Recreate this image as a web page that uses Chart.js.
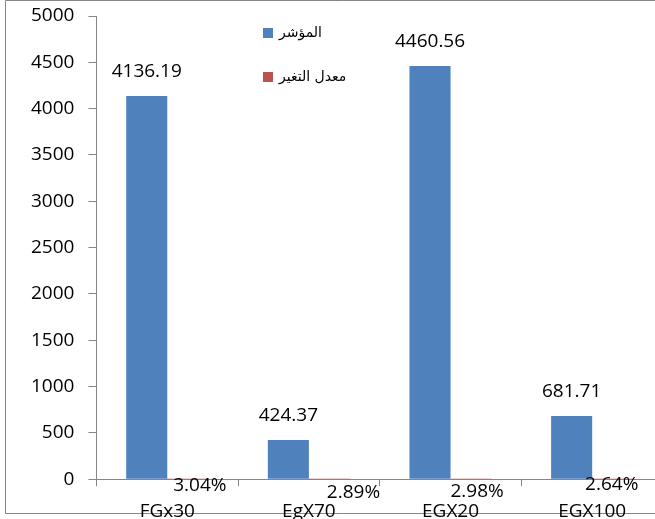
<!DOCTYPE html>
<html>
<head>
<meta charset="utf-8">
<script src="https://cdn.jsdelivr.net/npm/chart.js@4.4.0/dist/chart.umd.min.js"></script>
<style>
html,body{margin:0;padding:0;background:#fff;overflow:hidden;}
#wrap{position:relative;width:680px;height:537px;}
</style>
</head>
<body>
<div id="wrap"><canvas id="c" width="680" height="537"></canvas></div>
<script>
// ---- data ----
const categories = ['FGx30', 'EgX70', 'EGX20', 'EGX100'];
const indexValues = [4136.19, 424.37, 4460.56, 681.71];
const changeRates = [0.0304, 0.0289, 0.0298, 0.0264];
const seriesNames = ['المؤشر', 'معدل التغير'];
const yTicks = [0, 500, 1000, 1500, 2000, 2500, 3000, 3500, 4000, 4500, 5000];

// ---- styling ----
const BLUE = '#4F81BD';
const RED = '#C0504D';
const AXIS = '#868686';
const FONT = '"Open Sans", "DejaVu Sans", sans-serif';
// small per-label nudges for the percentage labels (x, y in px)
const pctNudge = [[12, 6], [24, 13], [6, 12], [-1, 5]];

const framePlugin = {
  id: 'frame',
  beforeDraw(chart) {
    const ctx = chart.ctx;
    ctx.save();
    ctx.fillStyle = '#fff';
    ctx.fillRect(0, 0, chart.width, chart.height);
    ctx.strokeStyle = AXIS;
    ctx.lineWidth = 1;
    ctx.beginPath();
    ctx.moveTo(5.5, 0.5); ctx.lineTo(chart.width, 0.5);
    ctx.moveTo(5.5, 0.5); ctx.lineTo(5.5, 513.5);
    ctx.moveTo(5.5, 513.5); ctx.lineTo(chart.width, 513.5);
    ctx.stroke();
    ctx.restore();
  }
};

const labelsPlugin = {
  id: 'valueLabels',
  afterDatasetsDraw(chart) {
    const ctx = chart.ctx;
    ctx.save();
    ctx.fillStyle = '#000';
    ctx.font = '19px ' + FONT;
    ctx.textAlign = 'center';
    ctx.textBaseline = 'middle';
    chart.getDatasetMeta(0).data.forEach((bar, i) => {
      ctx.fillText(indexValues[i].toFixed(2), bar.x, bar.y - 24);
    });
    chart.getDatasetMeta(1).data.forEach((bar, i) => {
      const t = (changeRates[i] * 100).toFixed(2) + '%';
      ctx.fillText(t, bar.x + pctNudge[i][0], bar.y + pctNudge[i][1]);
    });
    ctx.restore();
  }
};

const legendPlugin = {
  id: 'customLegend',
  afterDraw(chart) {
    const ctx = chart.ctx;
    const colors = [BLUE, RED];
    const rowsY = [33, 77];
    ctx.save();
    ctx.font = '14px "DejaVu Sans", sans-serif';
    ctx.textBaseline = 'middle';
    ctx.textAlign = 'left';
    seriesNames.forEach((name, i) => {
      ctx.fillStyle = colors[i];
      ctx.fillRect(263, rowsY[i] - 5, 10, 10);
      ctx.fillStyle = '#000';
      ctx.fillText(name, 279, rowsY[i]);
    });
    ctx.restore();
  }
};

new Chart(document.getElementById('c'), {
  type: 'bar',
  data: {
    labels: categories,
    datasets: [
      { label: seriesNames[0], data: indexValues, backgroundColor: BLUE, borderWidth: 0 },
      { label: seriesNames[1], data: changeRates, backgroundColor: RED, borderWidth: 0 }
    ]
  },
  options: {
    responsive: false,
    animation: false,
    devicePixelRatio: 1,
    datasets: { bar: { categoryPercentage: 0.58, barPercentage: 1 } },
    layout: { padding: { left: 17, top: 16, right: 17, bottom: 0 } },
    plugins: { legend: { display: false }, tooltip: { enabled: false } },
    scales: {
      x: {
        grid: { display: true, drawOnChartArea: false, offset: true, color: AXIS, tickLength: 7 },
        border: { color: AXIS },
        ticks: { color: '#000', font: { family: FONT, size: 19 }, padding: 14, maxRotation: 0 }
      },
      y: {
        min: 0, max: 5000,
        afterBuildTicks(scale) { scale.ticks = yTicks.map(v => ({ value: v })); },
        afterFit(scale) { scale.paddingTop = 0; scale.paddingBottom = 0; },
        grid: { drawOnChartArea: false, color: AXIS, tickLength: 8 },
        border: { color: AXIS },
        ticks: { color: '#000', font: { family: FONT, size: 19 }, padding: 14, callback: v => String(v) }
      }
    }
  },
  plugins: [framePlugin, labelsPlugin, legendPlugin]
});
</script>
</body>
</html>
